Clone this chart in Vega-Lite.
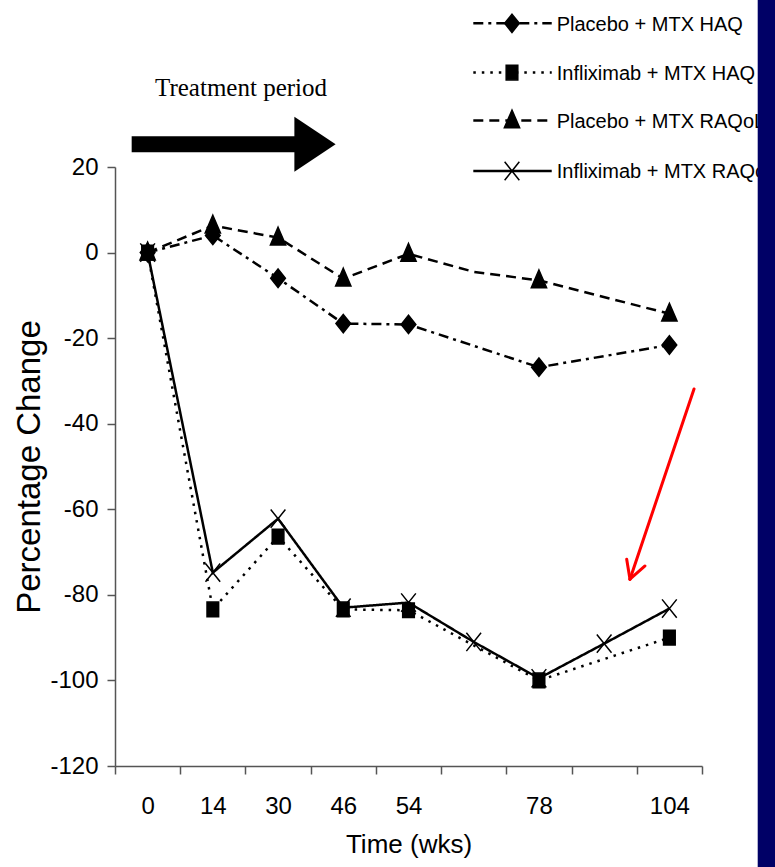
{
  "$schema": "https://vega.github.io/schema/vega-lite/v6.json",
  "autosize": {"type": "none"},
  "width": 587,
  "height": 599,
  "padding": {"left": 115, "top": 167, "right": 73, "bottom": 101},
  "background": "white",
  "config": {"view": {"stroke": null}, "font": "Liberation Sans"},
  "datasets": {
    "scores": [
      {"series": "Placebo + MTX HAQ", "week": 0, "change": 0},
      {"series": "Placebo + MTX HAQ", "week": 14, "change": 4},
      {"series": "Placebo + MTX HAQ", "week": 30, "change": -6},
      {"series": "Placebo + MTX HAQ", "week": 46, "change": -16.6},
      {"series": "Placebo + MTX HAQ", "week": 54, "change": -16.8},
      {"series": "Placebo + MTX HAQ", "week": 78, "change": -26.8},
      {"series": "Placebo + MTX HAQ", "week": 104, "change": -21.6},
      {"series": "Infliximab + MTX HAQ", "week": 0, "change": 0},
      {"series": "Infliximab + MTX HAQ", "week": 14, "change": -83.4},
      {"series": "Infliximab + MTX HAQ", "week": 30, "change": -66.4},
      {"series": "Infliximab + MTX HAQ", "week": 46, "change": -83.4},
      {"series": "Infliximab + MTX HAQ", "week": 54, "change": -83.6},
      {"series": "Infliximab + MTX HAQ", "week": 78, "change": -100},
      {"series": "Infliximab + MTX HAQ", "week": 104, "change": -90},
      {"series": "Placebo + MTX RAQoL", "week": 0, "change": 0},
      {"series": "Placebo + MTX RAQoL", "week": 14, "change": 6.3},
      {"series": "Placebo + MTX RAQoL", "week": 30, "change": 3.5},
      {"series": "Placebo + MTX RAQoL", "week": 46, "change": -6.1},
      {"series": "Placebo + MTX RAQoL", "week": 54, "change": -0.3},
      {"series": "Placebo + MTX RAQoL", "week": 66, "change": -4.5},
      {"series": "Placebo + MTX RAQoL", "week": 78, "change": -6.5},
      {"series": "Placebo + MTX RAQoL", "week": 104, "change": -14.3},
      {"series": "Infliximab + MTX RAQoL", "week": 0, "change": 0},
      {"series": "Infliximab + MTX RAQoL", "week": 14, "change": -74.8},
      {"series": "Infliximab + MTX RAQoL", "week": 30, "change": -62.2},
      {"series": "Infliximab + MTX RAQoL", "week": 46, "change": -83},
      {"series": "Infliximab + MTX RAQoL", "week": 54, "change": -81.8},
      {"series": "Infliximab + MTX RAQoL", "week": 66, "change": -91},
      {"series": "Infliximab + MTX RAQoL", "week": 78, "change": -99.5},
      {"series": "Infliximab + MTX RAQoL", "week": 91, "change": -91.4},
      {"series": "Infliximab + MTX RAQoL", "week": 104, "change": -83.2}
    ],
    "keyRows": [
      {"series": "Placebo + MTX HAQ", "pos": 0.6104, "pos2": 0.744, "mark": 0.6763, "lab": 0.7525, "val": 53.58},
      {"series": "Infliximab + MTX HAQ", "pos": 0.6104, "pos2": 0.744, "mark": 0.6763, "lab": 0.7525, "val": 42.08},
      {"series": "Placebo + MTX RAQoL", "pos": 0.6104, "pos2": 0.744, "mark": 0.6763, "lab": 0.7525, "val": 30.87},
      {"series": "Infliximab + MTX RAQoL", "pos": 0.6104, "pos2": 0.744, "mark": 0.6763, "lab": 0.7525, "val": 19.07}
    ]
  },
  "resolve": {
    "scale": {"x": "independent"},
    "axis": {"x": "independent", "y": "independent"}
  },
  "layer": [
    {
      "data": {"name": "scores"},
      "encoding": {
        "x": {
          "field": "week",
          "type": "ordinal",
          "scale": {"type": "band", "paddingInner": 0, "paddingOuter": 0},
          "axis": {
            "title": "Time (wks)",
            "titleFont": "Liberation Sans",
            "titleFontSize": 26,
            "titleFontWeight": "normal",
            "titleColor": "black",
            "titlePadding": 13,
            "labelFont": "Liberation Sans",
            "labelFontSize": 24,
            "labelColor": "black",
            "labelAngle": 0,
            "labelPadding": 20,
            "labelExpr": "datum.value == 66 || datum.value == 91 ? '' : datum.label",
            "tickBand": "extent",
            "tickSize": 8,
            "tickColor": "#555",
            "tickWidth": 1.5,
            "domainColor": "#555",
            "domainWidth": 1.5,
            "grid": false
          }
        },
        "y": {
          "field": "change",
          "type": "quantitative",
          "scale": {"domain": [-120, 20], "nice": false, "zero": false},
          "axis": {
            "title": "Percentage Change",
            "titleFont": "Liberation Sans",
            "titleFontSize": 33,
            "titleFontWeight": "normal",
            "titleColor": "black",
            "titlePadding": 3,
            "values": [-120, -100, -80, -60, -40, -20, 0, 20],
            "labelExpr": "'' + datum.value",
            "labelFont": "Liberation Sans",
            "labelFontSize": 24,
            "labelColor": "black",
            "labelPadding": 9,
            "tickSize": 8,
            "tickColor": "#555",
            "tickWidth": 1.5,
            "domainColor": "#555",
            "domainWidth": 1.5,
            "grid": false
          }
        }
      },
      "layer": [
        {
          "mark": {"type": "line", "color": "black", "strokeWidth": 2.5},
          "encoding": {
            "detail": {"field": "series"},
            "strokeDash": {
              "field": "series",
              "type": "nominal",
              "scale": {
                "domain": ["Placebo + MTX HAQ", "Infliximab + MTX HAQ", "Placebo + MTX RAQoL", "Infliximab + MTX RAQoL"],
                "range": [[10, 5, 3, 5], [2.5, 6], [10, 6], [1, 0]]
              },
              "legend": null
            }
          }
        },
        {
          "transform": [{"filter": "!(datum.series == 'Placebo + MTX RAQoL' && datum.week == 66)"}],
          "mark": {"type": "point", "filled": true, "fill": "black", "stroke": "black", "strokeWidth": 1.5, "size": 150, "opacity": 1},
          "encoding": {
            "shape": {
              "field": "series",
              "type": "nominal",
              "scale": {
                "domain": ["Placebo + MTX HAQ", "Infliximab + MTX HAQ", "Placebo + MTX RAQoL", "Infliximab + MTX RAQoL"],
                "range": ["M0,-1.5L1.2,0L0,1.5L-1.2,0Z", "M-0.95,-1.2H0.95V1.2H-0.95Z", "M0,-1.7L1.25,1.2H-1.25Z", "M-1.2,-1.5L1.2,1.5M1.2,-1.5L-1.2,1.5"]
              },
              "legend": null
            }
          }
        }
      ]
    },
    {
      "layer": [
        {
          "data": {"values": [{"pos": 0.0284, "pos2": 0.315, "val": 25.3}]},
          "mark": {"type": "rule", "color": "black", "strokeWidth": 16},
          "encoding": {
            "x": {"field": "pos", "type": "quantitative", "scale": {"domain": [0, 1], "nice": false, "zero": false}, "axis": null},
            "x2": {"field": "pos2"},
            "y": {"field": "val", "type": "quantitative", "scale": {"domain": [-120, 20], "nice": false, "zero": false}, "axis": null}
          }
        },
        {
          "data": {"values": [{"pos": 0.3407, "val": 25.3}]},
          "mark": {"type": "point", "shape": "M0.75,0L-0.75,-1L-0.75,1Z", "size": 3025, "filled": true, "fill": "black", "opacity": 1},
          "encoding": {
            "x": {"field": "pos", "type": "quantitative", "scale": {"domain": [0, 1], "nice": false, "zero": false}, "axis": null},
            "y": {"field": "val", "type": "quantitative", "scale": {"domain": [-120, 20], "nice": false, "zero": false}, "axis": null}
          }
        },
        {
          "data": {"values": [{"pos": 0.2147, "val": 36.6, "note": "Treatment period"}]},
          "mark": {"type": "text", "font": "Liberation Serif", "fontSize": 25, "color": "black", "align": "center", "baseline": "alphabetic"},
          "encoding": {
            "x": {"field": "pos", "type": "quantitative", "scale": {"domain": [0, 1], "nice": false, "zero": false}, "axis": null},
            "y": {"field": "val", "type": "quantitative", "scale": {"domain": [-120, 20], "nice": false, "zero": false}, "axis": null},
            "text": {"field": "note"}
          }
        },
        {
          "data": {"values": [
            {"pos": 0.9864, "val": -31.88, "pos2": 0.8773, "val2": -76.35},
            {"pos": 0.8773, "val": -76.35, "pos2": 0.8717, "val2": -71.68},
            {"pos": 0.8773, "val": -76.35, "pos2": 0.9029, "val2": -73.25}
          ]},
          "mark": {"type": "rule", "color": "#ff0000", "strokeWidth": 3, "strokeCap": "round"},
          "encoding": {
            "x": {"field": "pos", "type": "quantitative", "scale": {"domain": [0, 1], "nice": false, "zero": false}, "axis": null},
            "x2": {"field": "pos2"},
            "y": {"field": "val", "type": "quantitative", "scale": {"domain": [-120, 20], "nice": false, "zero": false}, "axis": null},
            "y2": {"field": "val2"}
          }
        },
        {
          "data": {"name": "keyRows"},
          "mark": {"type": "rule", "color": "black", "strokeWidth": 2.5},
          "encoding": {
            "x": {"field": "pos", "type": "quantitative", "scale": {"domain": [0, 1], "nice": false, "zero": false}, "axis": null},
            "x2": {"field": "pos2"},
            "y": {"field": "val", "type": "quantitative", "scale": {"domain": [-120, 20], "nice": false, "zero": false}, "axis": null},
            "strokeDash": {"field": "series", "type": "nominal", "legend": null}
          }
        },
        {
          "data": {"name": "keyRows"},
          "mark": {"type": "point", "filled": true, "fill": "black", "stroke": "black", "strokeWidth": 1.5, "size": 150, "opacity": 1},
          "encoding": {
            "x": {"field": "mark", "type": "quantitative", "scale": {"domain": [0, 1], "nice": false, "zero": false}, "axis": null},
            "y": {"field": "val", "type": "quantitative", "scale": {"domain": [-120, 20], "nice": false, "zero": false}, "axis": null},
            "shape": {"field": "series", "type": "nominal", "legend": null}
          }
        },
        {
          "data": {"name": "keyRows"},
          "mark": {"type": "text", "font": "Liberation Sans", "fontSize": 20, "color": "black", "align": "left", "baseline": "middle", "dy": 1.5},
          "encoding": {
            "x": {"field": "lab", "type": "quantitative", "scale": {"domain": [0, 1], "nice": false, "zero": false}, "axis": null},
            "y": {"field": "val", "type": "quantitative", "scale": {"domain": [-120, 20], "nice": false, "zero": false}, "axis": null},
            "text": {"field": "series"}
          }
        },
        {
          "data": {"values": [{"pos": 1.0949, "pos2": 1.2, "val": 62, "val2": -150}]},
          "mark": {"type": "rect", "color": "#000066"},
          "encoding": {
            "x": {"field": "pos", "type": "quantitative", "scale": {"domain": [0, 1], "nice": false, "zero": false}, "axis": null},
            "x2": {"field": "pos2"},
            "y": {"field": "val", "type": "quantitative", "scale": {"domain": [-120, 20], "nice": false, "zero": false}, "axis": null},
            "y2": {"field": "val2"}
          }
        }
      ]
    }
  ]
}
